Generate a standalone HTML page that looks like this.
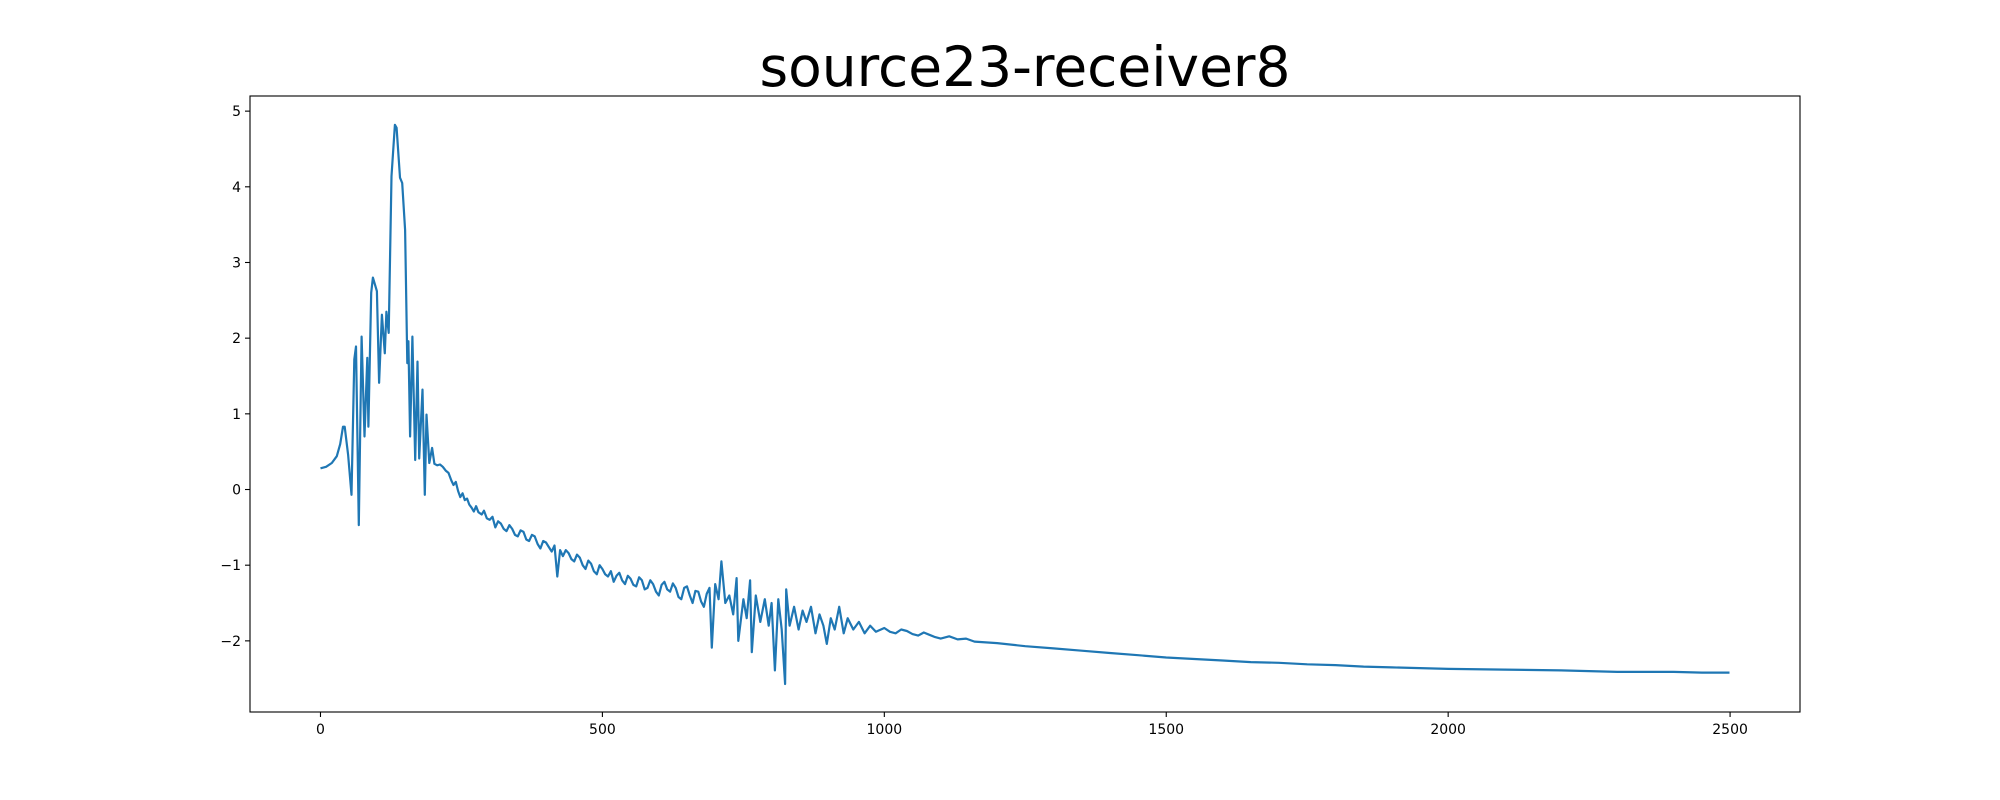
<!DOCTYPE html>
<html><head><meta charset="utf-8"><style>
html,body{margin:0;padding:0;background:#fff;}
svg{display:block;font-family:"DejaVu Sans","Liberation Sans",sans-serif;}
</style></head><body>
<svg id="chart" width="2000" height="800" viewBox="0 0 2000 800" xmlns="http://www.w3.org/2000/svg">
<rect width="2000" height="800" fill="#fff"/>
<text x="1025" y="86" text-anchor="middle" font-size="55" fill="#000">source23-receiver8</text>
<g id="axes"></g>
</svg>
<script>
const xTicks = [0, 500, 1000, 1500, 2000, 2500];
const yTicks = [-2, -1, 0, 1, 2, 3, 4, 5];
const xValues = [0,10,20,29,35,40,43,49,55,60,63,68,73,78,83,85,90,93,100,104,109,114,117,121,126,132,135,141,145,150,154,156,159,163,168,172,175,181,185,188,193,198,
202,207,212,217,222,227,232,236,240,244,248,252,256,260,264,268,272,276,280,286,290,295,300,305,310,315,320,325,330,335,340,345,350,355,360,365,370,375,380,385,390,395,400,405,410,415,420,425,430,435,440,445,450,455,460,465,470,475,480,485,490,495,500,505,510,515,520,525,530,535,540,545,550,555,560,565,570,575,580,585,590,595,600,605,610,615,620,625,630,635,640,645,650,655,660,665,670,675,680,685,690,
694,700,706,711,718,725,732,738,741,750,756,762,765,772,780,788,795,800,806,812,818,824,826,832,840,848,855,862,870,878,885,892,898,905,912,920,928,935,945,955,965,975,985,1000,1010,1020,1030,1040,1050,1060,1070,1080,1090,1100,1115,1130,1145,1160,1200,1250,1300,1350,1400,1450,1500,1550,1600,1650,1700,1750,1800,1850,1900,1950,2000,2100,2200,2300,2400,2450,2499];
const yValues = [0.28,0.30,0.35,0.44,0.60,0.83,0.83,0.46,-0.07,1.72,1.89,-0.47,2.02,0.70,1.74,0.83,2.60,2.80,2.62,1.41,2.31,1.80,2.35,2.07,4.14,4.82,4.78,4.12,4.05,3.43,1.67,1.96,0.70,2.02,0.39,1.69,0.41,1.32,-0.07,0.99,0.35,0.55,
0.34,0.32,0.33,0.30,0.25,0.22,0.12,0.06,0.10,-0.02,-0.10,-0.05,-0.14,-0.12,-0.20,-0.24,-0.29,-0.22,-0.30,-0.33,-0.28,-0.38,-0.40,-0.36,-0.50,-0.42,-0.45,-0.52,-0.55,-0.47,-0.52,-0.60,-0.62,-0.54,-0.56,-0.66,-0.68,-0.60,-0.62,-0.72,-0.78,-0.68,-0.70,-0.76,-0.82,-0.74,-1.15,-0.80,-0.88,-0.80,-0.84,-0.92,-0.95,-0.86,-0.90,-1.00,-1.05,-0.94,-0.98,-1.08,-1.12,-1.00,-1.05,-1.12,-1.15,-1.08,-1.22,-1.14,-1.10,-1.20,-1.25,-1.14,-1.18,-1.26,-1.28,-1.16,-1.20,-1.32,-1.30,-1.20,-1.25,-1.35,-1.40,-1.26,-1.22,-1.32,-1.35,-1.24,-1.30,-1.42,-1.45,-1.30,-1.28,-1.40,-1.50,-1.34,-1.35,-1.48,-1.55,-1.38,-1.30,
-2.09,-1.25,-1.45,-0.95,-1.50,-1.40,-1.65,-1.17,-2.00,-1.45,-1.70,-1.20,-2.15,-1.40,-1.75,-1.45,-1.80,-1.50,-2.39,-1.45,-1.85,-2.57,-1.32,-1.80,-1.55,-1.85,-1.60,-1.75,-1.55,-1.90,-1.65,-1.80,-2.04,-1.70,-1.85,-1.55,-1.90,-1.70,-1.85,-1.75,-1.90,-1.80,-1.88,-1.83,-1.88,-1.90,-1.85,-1.87,-1.91,-1.93,-1.89,-1.92,-1.95,-1.97,-1.94,-1.98,-1.97,-2.01,-2.03,-2.07,-2.10,-2.13,-2.16,-2.19,-2.22,-2.24,-2.26,-2.28,-2.29,-2.31,-2.32,-2.34,-2.35,-2.36,-2.37,-2.38,-2.39,-2.41,-2.41,-2.42,-2.42];

const L=250,R=1800,T=96,B=712;
const xMin=-125,xMax=2624,yMin=-2.94,yMax=5.2;
function sx(v){return L+(v-xMin)/(xMax-xMin)*(R-L);}
function sy(v){return B-(v-yMin)/(yMax-yMin)*(B-T);}
const NS="http://www.w3.org/2000/svg";
const g=document.getElementById('axes');
function mk(tag,attrs){const e=document.createElementNS(NS,tag);for(const k in attrs)e.setAttribute(k,attrs[k]);g.appendChild(e);return e;}

const line=mk('polyline',{points:xValues.map((x,i)=>sx(x).toFixed(1)+','+sy(yValues[i]).toFixed(1)).join(' '),fill:'none',stroke:'#1f77b4','stroke-width':2.2,'stroke-linejoin':'round'});



const frame=mk('rect',{x:L,y:T,width:R-L,height:B-T,fill:'none',stroke:'#000','stroke-width':1.1});



xTicks.forEach(t=>{
  const X=sx(t);
  const tk=mk('line',{x1:X,x2:X,y1:B,y2:B+5,stroke:'#000','stroke-width':1.1});
  
  
  const lb=mk('text',{x:X,y:B+22,'text-anchor':'middle','font-size':14,fill:'#000'});
  lb.textContent=String(t);
  
  
});
yTicks.forEach(t=>{
  const Y=sy(t);
  const tk=mk('line',{x1:L-5,x2:L,y1:Y,y2:Y,stroke:'#000','stroke-width':1.1});
  
  
  const lb=mk('text',{x:L-9,y:Y+5,'text-anchor':'end','font-size':14,fill:'#000'});
  lb.textContent=t<0?'\u2212'+Math.abs(t):String(t);
  
  
});
</script>
</body></html>
